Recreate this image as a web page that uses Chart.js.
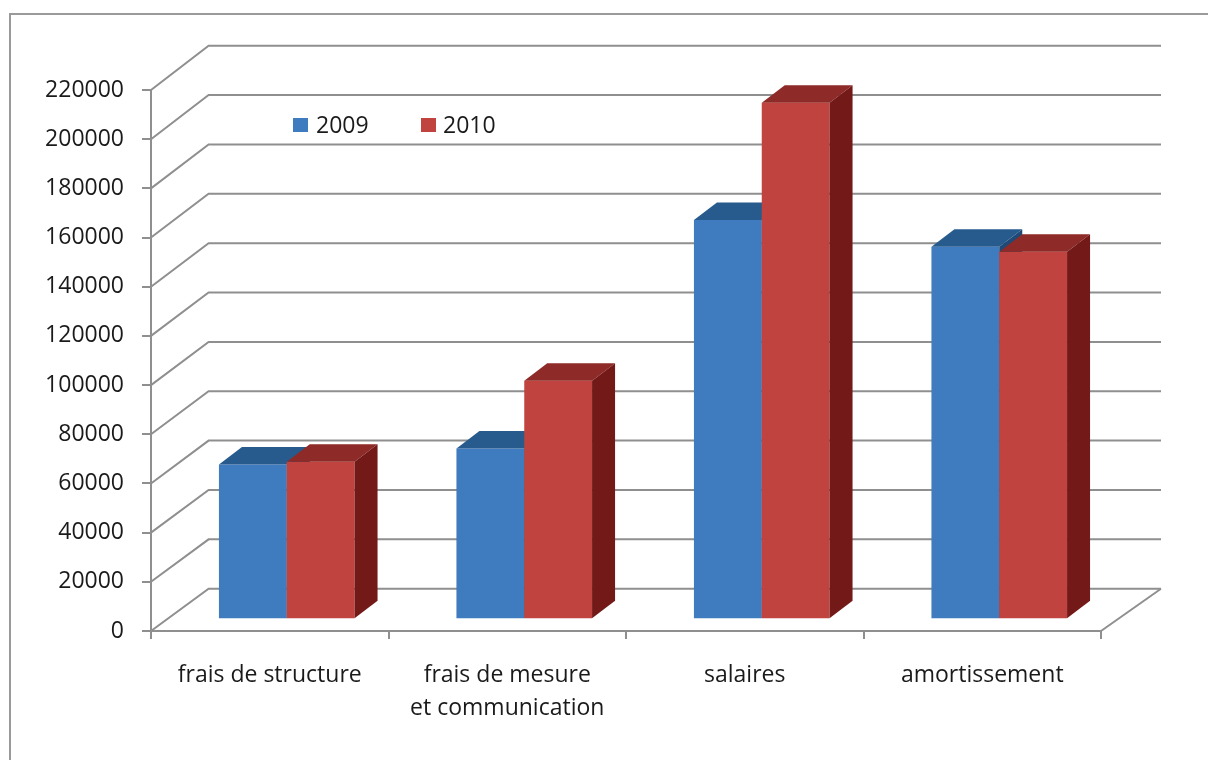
<!DOCTYPE html>
<html>
<head>
<meta charset="utf-8">
<script src="https://cdn.jsdelivr.net/npm/chart.js@4.4.1/dist/chart.umd.min.js"></script>
<style>
  html, body { margin: 0; padding: 0; background: #ffffff; }
  #wrap { width: 1208px; height: 760px; position: relative; }
</style>
</head>
<body>
<div id="wrap"><canvas id="c"></canvas></div>
<script>
// ---- data ----
const categories = ['frais de structure', ['frais de mesure', 'et communication'], 'salaires', 'amortissement'];
const seriesNames = ['2009', '2010'];
const values2009 = [63000, 69500, 162400, 151500];
const values2010 = [64100, 97000, 210100, 149500];
const yMin = 0;
const yMax = 220000;
const yStep = 20000;

// ---- style ----
const FONT = '"Open Sans", "Noto Sans", sans-serif';
const TEXT = '#1a1a1a';
const GRID = '#8f8f8f';
const shades = [
  { front: '#3f7bbf', top: '#275b8e', side: '#1f4a77' },
  { front: '#c0433f', top: '#8e2a27', side: '#731a18' }
];
// oblique projection of the room (walls and floor)
const ROOM = { dxL: 57.6, dxR: 60, dyBottom: 42.3, dyTop: 44.3 };
// offset of the columns' front plane, and the columns' own depth
const PLANE = { dx: 17, dy: -11.7 };
const DEPTH = { dx: 23, dy: -17.5 };

const box3d = {
  id: 'box3d',
  beforeDraw(chart) {
    const ctx = chart.ctx;
    ctx.save();
    ctx.strokeStyle = '#9a9a9a';
    ctx.lineWidth = 2;
    ctx.strokeRect(10, 14, chart.width + 40, chart.height + 40);
    ctx.restore();
  },
  beforeDatasetsDraw(chart) {
    const { ctx, chartArea: a, scales: { y } } = chart;
    ctx.save();
    ctx.strokeStyle = GRID;
    ctx.lineWidth = 2;
    y.ticks.forEach(t => {
      const yf = y.getPixelForValue(t.value);
      const f = (t.value - yMin) / (yMax - yMin);
      const yb = yf - (ROOM.dyBottom + (ROOM.dyTop - ROOM.dyBottom) * f);
      ctx.beginPath();
      ctx.moveTo(a.left, yf);
      ctx.lineTo(a.left + ROOM.dxL, yb);
      ctx.lineTo(a.right + ROOM.dxR, yb);
      ctx.stroke();
    });
    // right edge of the floor
    ctx.beginPath();
    ctx.moveTo(a.right, a.bottom);
    ctx.lineTo(a.right + ROOM.dxR, a.bottom - ROOM.dyBottom);
    ctx.stroke();
    ctx.restore();

    ctx.save();
    ctx.translate(PLANE.dx, PLANE.dy);
  },
  beforeDatasetDraw() {
    // columns are painted below, category by category, back to front
    return false;
  },
  afterDatasetsDraw(chart) {
    const ctx = chart.ctx;
    const metas = chart.data.datasets.map((d, i) => chart.getDatasetMeta(i));
    const n = chart.data.labels.length;
    for (let j = 0; j < n; j++) {
      for (let i = 0; i < metas.length; i++) {
        const el = metas[i].data[j];
        if (!el) continue;
        el.draw(ctx);
        const p = el.getProps(['x', 'y', 'base', 'width'], true);
        const x0 = p.x - p.width / 2, x1 = p.x + p.width / 2;
        const yt = Math.min(p.y, p.base), yb = Math.max(p.y, p.base);
        const c = shades[i];
        // top face
        ctx.fillStyle = c.top;
        ctx.beginPath();
        ctx.moveTo(x0, yt);
        ctx.lineTo(x1, yt);
        ctx.lineTo(x1 + DEPTH.dx, yt + DEPTH.dy);
        ctx.lineTo(x0 + DEPTH.dx, yt + DEPTH.dy);
        ctx.closePath();
        ctx.fill();
        // right face
        ctx.fillStyle = c.side;
        ctx.beginPath();
        ctx.moveTo(x1, yt);
        ctx.lineTo(x1 + DEPTH.dx, yt + DEPTH.dy);
        ctx.lineTo(x1 + DEPTH.dx, yb + DEPTH.dy);
        ctx.lineTo(x1, yb);
        ctx.closePath();
        ctx.fill();
      }
    }
    ctx.restore();
  },
  afterDraw(chart) {
    // legend inside the plot, upper left
    const ctx = chart.ctx;
    const pos = [{ box: 293, text: 316 }, { box: 421, text: 443 }];
    ctx.save();
    ctx.font = '23px ' + FONT;
    ctx.textBaseline = 'alphabetic';
    ctx.textAlign = 'left';
    chart.data.datasets.forEach((ds, i) => {
      ctx.fillStyle = ds.backgroundColor;
      ctx.fillRect(pos[i].box, 118, 15, 14);
      ctx.fillStyle = TEXT;
      ctx.fillText(ds.label, pos[i].text, 132.5);
    });
    ctx.restore();
  }
};

new Chart(document.getElementById('c'), {
  type: 'bar',
  data: {
    labels: categories,
    datasets: [
      { label: seriesNames[0], data: values2009, backgroundColor: shades[0].front },
      { label: seriesNames[1], data: values2010, backgroundColor: shades[1].front }
    ]
  },
  options: {
    responsive: true,
    maintainAspectRatio: false,
    animation: false,
    devicePixelRatio: 1,
    categoryPercentage: 0.571,
    barPercentage: 1,
    layout: { padding: { left: 0, top: 90, right: 107, bottom: 0 } },
    plugins: { legend: { display: false }, tooltip: { enabled: false } },
    scales: {
      x: {
        afterFit(s) { s.height = 129; },
        grid: { offset: true, drawOnChartArea: false, drawTicks: true, tickLength: 8, color: GRID, lineWidth: 2 },
        border: { display: true, color: GRID, width: 2 },
        ticks: {
          color: TEXT, font: { family: FONT, size: 23, lineHeight: 1.43 },
          padding: 20, maxRotation: 0, autoSkip: false
        }
      },
      y: {
        min: yMin, max: yMax,
        afterFit(s) { s.width = 151; },
        grid: { drawOnChartArea: false, drawTicks: true, tickLength: 9, color: GRID, lineWidth: 2 },
        border: { display: true, color: GRID, width: 2 },
        ticks: {
          stepSize: yStep, color: TEXT, font: { family: FONT, size: 23 }, padding: 18,
          callback: v => String(v)
        }
      }
    }
  },
  plugins: [box3d]
});
</script>
</body>
</html>
